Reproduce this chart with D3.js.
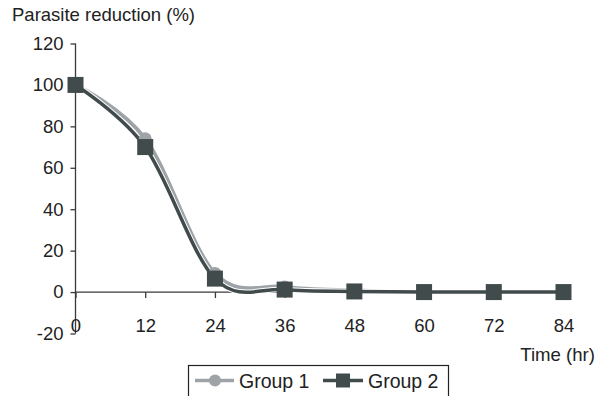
<!DOCTYPE html>
<html><head><meta charset="utf-8">
<script src="https://cdn.jsdelivr.net/npm/d3@7/dist/d3.min.js"></script>
<style>body{margin:0;background:#fff}svg{display:block;font-family:"Liberation Sans",Arial,sans-serif}</style>
</head><body>
<svg id="c" width="605" height="396"></svg>
<script>
const hours = [0, 12, 24, 36, 48, 60, 72, 84];
const group1 = [100, 74, 9, 2.5, 0.8, 0, 0, 0];
const group2 = [100, 70, 6.5, 1.2, 0.3, 0, 0, 0];
const yTicks = [-20, 0, 20, 40, 60, 80, 100, 120];
const seriesNames = ["Group 1", "Group 2"];

const svg = d3.select("#c");
const x = d3.scaleLinear().domain([0, 84]).range([75.5, 563.5]);
const y = d3.scaleLinear().domain([-20, 120]).range([333.5, 43.5]);
const axisColor = "#3a3a3a";
const c1 = "#9ea3a8", c2 = "#414b4b";
const fmt = d => String(d);

// y axis
const yAxis = svg.append("g").attr("transform", `translate(${x(0)},0)`)
  .call(d3.axisLeft(y).tickValues(yTicks).tickSize(5).tickPadding(7).tickFormat(fmt));
yAxis.select(".domain").attr("stroke", axisColor).attr("stroke-width", 1.3).attr("d", `M0,${y(120)}V${y(-20)}`);
yAxis.selectAll(".tick line").attr("stroke", axisColor).attr("stroke-width", 1.3);
yAxis.selectAll(".tick text").attr("fill", "#222").style("font-size", "18.5px").attr("font-family", "Liberation Sans, Arial, sans-serif");

// x axis at y=0
const xAxis = svg.append("g").attr("transform", `translate(0,${y(0)})`)
  .call(d3.axisBottom(x).tickValues(hours).tickSize(6).tickPadding(21).tickFormat(fmt));
xAxis.select(".domain").attr("stroke", axisColor).attr("stroke-width", 1.3).attr("d", `M${x(0)},0H${x(84)}`);
xAxis.selectAll(".tick line").attr("stroke", axisColor).attr("stroke-width", 1.3);
xAxis.selectAll(".tick text").attr("fill", "#222").style("font-size", "18.5px").attr("font-family", "Liberation Sans, Arial, sans-serif");

// titles
svg.append("text").attr("x", 12).attr("y", 21).attr("fill", "#222").style("font-size", "18.5px").text("Parasite reduction (%)");
svg.append("text").attr("x", 595).attr("y", 361).attr("text-anchor", "end").attr("fill", "#222").style("font-size", "18.6px").text("Time (hr)");

// lines
const line = d3.line().x((d, i) => x(hours[i])).y(d => y(d)).curve(d3.curveCardinal.tension(0));
[[group1, c1, 4], [group2, c2, 3.5]].forEach(([vals, col, w]) => {
  svg.append("path").datum(vals).attr("d", line).attr("fill", "none").attr("stroke", "#fff").attr("stroke-width", w + 2);
  svg.append("path").datum(vals).attr("d", line).attr("fill", "none").attr("stroke", col).attr("stroke-width", w);
});
// markers
svg.append("g").selectAll("circle").data(group1).join("circle")
  .attr("cx", (d, i) => x(hours[i])).attr("cy", d => y(d)).attr("r", 6.5).attr("fill", c1);
svg.append("g").selectAll("rect").data(group2).join("rect")
  .attr("x", (d, i) => x(hours[i]) - 8).attr("y", d => y(d) - 8).attr("width", 16).attr("height", 16).attr("fill", c2);

// legend
const lg = svg.append("g");
lg.append("rect").attr("x", 188.5).attr("y", 365.5).attr("width", 260).attr("height", 34).attr("fill", "#fff").attr("stroke", "#222").attr("stroke-width", 1.2);
const ly = 380.5;
lg.append("line").attr("x1", 195).attr("x2", 234).attr("y1", ly).attr("y2", ly).attr("stroke", c1).attr("stroke-width", 3.5);
lg.append("circle").attr("cx", 215).attr("cy", ly).attr("r", 6).attr("fill", c1);
lg.append("text").attr("x", 239).attr("y", ly + 7).attr("fill", "#222").style("font-size", "19.5px").text(seriesNames[0]);
lg.append("line").attr("x1", 323).attr("x2", 363).attr("y1", ly).attr("y2", ly).attr("stroke", c2).attr("stroke-width", 3.5);
lg.append("rect").attr("x", 336).attr("y", ly - 7).attr("width", 14).attr("height", 14).attr("fill", c2);
lg.append("text").attr("x", 368).attr("y", ly + 7).attr("fill", "#222").style("font-size", "19.5px").text(seriesNames[1]);
</script>
</body></html>
